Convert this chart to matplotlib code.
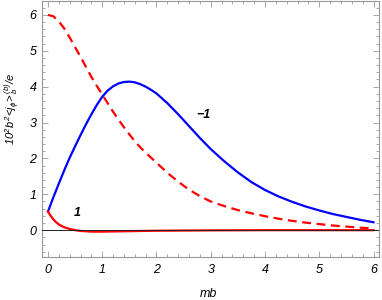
import numpy as np
import matplotlib
matplotlib.use("Agg")
import matplotlib.pyplot as plt
from matplotlib.ticker import MultipleLocator

plt.rcParams['font.family'] = ['Liberation Sans', 'DejaVu Sans']
plt.rcParams['font.style'] = 'italic'
plt.rcParams['mathtext.fontset'] = 'custom'
plt.rcParams['mathtext.it'] = 'Liberation Sans:italic'
plt.rcParams['mathtext.rm'] = 'Liberation Sans:italic'

# values
mb = [0, 0.1, 0.2, 0.3, 0.4, 0.5, 0.6, 0.7, 0.8, 0.9, 1.0, 1.1, 1.2, 1.3, 1.4, 1.5, 1.6, 1.7, 1.8, 1.9,
      2.0, 2.2, 2.4, 2.6, 2.8, 3.0, 3.25, 3.5, 3.75, 4.0, 4.25, 4.5, 4.75, 5.0, 5.25, 5.5, 5.75, 6.0]
dashed_red = [6.0, 5.96, 5.82, 5.62, 5.37, 5.1, 4.83, 4.55, 4.27, 4.02, 3.78, 3.54, 3.3, 3.08, 2.87, 2.67, 2.48, 2.31, 2.16, 2.02,
              1.88, 1.6, 1.35, 1.13, 0.95, 0.8, 0.67, 0.56, 0.47, 0.39, 0.32, 0.26, 0.21, 0.17, 0.13, 0.1, 0.07, 0.05]
blue_m1 = [0.52, 0.92, 1.3, 1.67, 2.02, 2.34, 2.65, 2.95, 3.23, 3.49, 3.72, 3.89, 4.01, 4.09, 4.13, 4.14, 4.12, 4.07, 4.0, 3.91,
           3.81, 3.54, 3.23, 2.9, 2.57, 2.26, 1.92, 1.61, 1.34, 1.12, 0.94, 0.79, 0.66, 0.55, 0.45, 0.37, 0.29, 0.22]

mb_1 = [0, 0.05, 0.1, 0.15, 0.2, 0.3, 0.4, 0.5, 0.6, 0.8, 1.0, 1.4, 2.0, 3.0, 4.0, 6.0]
red_p1 = [0.52, 0.4, 0.3, 0.22, 0.16, 0.08, 0.035, 0.0, -0.02, -0.04, -0.04, -0.03, -0.015, -0.005, 0.0, 0.0]

fig = plt.figure(figsize=(3.82, 3.0), dpi=100)
ax = fig.add_axes([0.110, 0.143, 0.882, 0.854])

ax.plot(mb, blue_m1, color='#0000ff', lw=1.6, zorder=3, solid_joinstyle='round')
ax.plot(mb, dashed_red, color='#ff0000', lw=1.6, ls=(0, (4, 2.5)), zorder=3)
ax.plot(mb_1, red_p1, color='#ff0000', lw=1.6, zorder=3, solid_joinstyle='round')
ax.axhline(0, color='#222222', lw=0.7, zorder=4)

ax.text(0.54, 0.47, '1', fontsize=9, fontweight='bold', ha='center', va='center')
ax.text(2.87, 3.2, '\u22121', fontsize=9, fontweight='bold', ha='center', va='center')

ax.set_xlim(-0.11, 6.1)
ax.set_ylim(-0.75, 6.39)
ax.xaxis.set_major_locator(MultipleLocator(1))
ax.xaxis.set_minor_locator(MultipleLocator(0.2))
ax.yaxis.set_major_locator(MultipleLocator(1))
ax.yaxis.set_minor_locator(MultipleLocator(0.2))
ax.tick_params(which='both', direction='in', top=True, right=True, color='#999999',
               labelsize=9, width=0.6)
ax.tick_params(which='major', length=4)
ax.tick_params(which='minor', length=2.2)
ax.tick_params(axis='x', pad=5)
ax.tick_params(axis='y', pad=4)
for s in ax.spines.values():
    s.set_color('#999999')
    s.set_linewidth(0.8)

ax.set_xlabel('mb', fontsize=9)
ax.xaxis.set_label_coords(0.495, -0.12)
ax.set_ylabel(r'$10^2b^2\!<\!j_\phi\!>_b^{(b)}/e$', fontsize=8)
ax.yaxis.set_label_coords(-0.058, 0.58)

fig.savefig('out.png', dpi=100)
